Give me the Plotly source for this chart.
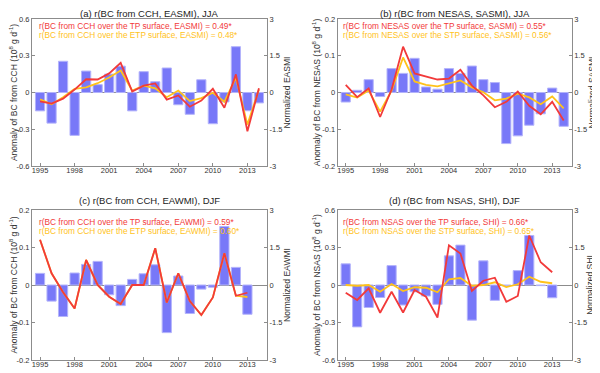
import plotly.graph_objects as go

YEARS_A = list(range(1995, 2015))
YEARS_C = list(range(1995, 2014))

# (a) CCH, EASMI, JJA
BAR_A = [-0.15, -0.25, 0.255, -0.35, 0.175, 0.064, 0.15, 0.215, -0.15, 0.17,
         0.088, 0.2, -0.1, -0.178, 0.104, -0.255, -0.077, 0.374, -0.149, -0.085]
TP_A = [-0.36, -0.45, -0.25, 0.12, 0.54, 0.53, 0.78, 1.21, 0.04, 0.28,
        0.37, -0.29, -0.12, -0.58, -0.33, 0.15, -0.62, 0.74, -1.58, 0.17]
ETP_A = [-0.28, -0.48, -0.19, 0.15, 0.21, 0.38, 0.61, 0.9, 0.08, 0.28,
         0.17, -0.19, 0.08, -0.35, -0.23, -0.01, -0.38, 0.61, -1.31, 0.12]

# (b) NESAS, SASMI, JJA
BAR_B = [-0.026, 0.006, 0.035, -0.011, 0.065, 0.052, 0.093, 0.015, 0.009, 0.065,
         0.052, 0.072, 0.035, 0.027, -0.139, -0.118, -0.089, -0.058, 0.012, -0.092]
TP_B = [0.31, -0.19, 0.17, -1.0, 0.12, 1.87, 0.78, 0.65, 0.53, 0.57,
        0.93, 0.28, -0.12, -0.6, -0.38, 0.04, -0.54, -0.89, -0.38, -1.14]
STP_B = [-0.08, -0.21, 0.08, -0.78, 0.08, 1.43, 0.45, 0.31, 0.25, 0.36,
         0.49, 0.21, 0.01, -0.32, -0.25, -0.05, -0.2, -0.48, -0.16, -0.65]

# (c) CCH, EAWMI, DJF
BAR_C = [0.031, -0.043, -0.084, 0.032, 0.055, 0.063, -0.026, -0.055, 0.015, 0.03,
         0.054, -0.127, 0.024, -0.076, -0.011, -0.006, 0.156, 0.047, -0.078]
TP_C = [1.81, 0.47, -0.29, -0.94, 1.0, 0.0, -0.47, -0.76, 0.0, 0.0,
        1.47, -0.7, 0.47, -0.64, -1.2, -0.5, 1.27, -0.43, -0.31]
ETP_C = [1.81, 0.47, -0.29, -0.94, 1.0, 0.0, -0.47, -0.76, 0.0, 0.0,
         1.47, -0.7, 0.47, -0.64, -1.2, -0.5, 1.27, -0.43, -0.48]

# (d) NSAS, SHI, DJF
BAR_D = [0.169, -0.335, -0.18, -0.1, 0.155, -0.16, -0.054, -0.088, -0.155, 0.233,
         0.319, -0.281, 0.193, -0.123, -0.005, 0.115, 0.396, -0.005, -0.102]
TP_D = [-0.31, -0.6, -0.13, -1.11, -0.27, -1.1, -0.2, -0.47, -1.3, 1.59,
        1.26, -0.24, 0.17, 0.29, -0.67, -0.44, 1.98, 0.91, 0.51]
STP_D = [0.0, -0.03, 0.0, -0.27, 0.04, -0.24, -0.09, -0.11, -0.29, 0.23,
         0.28, -0.03, 0.0, 0.11, -0.08, 0.03, 0.33, 0.13, 0.07]

XTICKS = [1995, 1998, 2001, 2004, 2007, 2010, 2013]

BAR_COL = "#7878f8"
BAR_EDGE = "#b4b4fb"
RED = "#f23a3a"
ORANGE = "#ffc21a"
AXC = "#8c8c8c"
INK = "#333333"
FONT = "Liberation Sans, Arial, sans-serif"

# the page body has an 8px margin, so the figure is 592x365 and offset by 8px
W, H = 592, 365
TOP_ROW = dict(yd=[0.5671, 0.9699], ty=0.9863, l1y=0.9507, l2y=0.926)
BOT_ROW = dict(yd=[0.0356, 0.4466], ty=0.472, l1y=0.4145, l2y=0.3899)
LEFT_COL = dict(xd=[0.0405, 0.4375], lx=0.0485)
RIGHT_COL = dict(xd=[0.5569, 0.9522], lx=0.562)

PANELS = [
    dict(title="(a) r(BC from CCH, EASMI), JJA", years=YEARS_A, bar=BAR_A, red=TP_A, org=ETP_A,
         lim=0.6, lt=[-0.6, -0.3, 0, 0.3, 0.6], ltxt=["-0.6", "-0.3", "0", "0.3", "0.6"],
         ylab="Anomaly of BC from CCH (10<sup>8</sup> g d<sup>-1</sup>)", rlab="Normalized EASMI",
         l1="r(BC from CCH over the TP surface, EASMI) = 0.49*",
         l2="r(BC from CCH over the ETP surface, EASMI) = 0.48*",
         **TOP_ROW, **LEFT_COL),
    dict(title="(b) r(BC from NESAS, SASMI), JJA", years=YEARS_A, bar=BAR_B, red=TP_B, org=STP_B,
         lim=0.2, lt=[-0.2, -0.1, 0, 0.1, 0.2], ltxt=["-0.2", "-0.1", "0", "0.1", "0.2"],
         ylab="Anomaly of BC from NESAS (10<sup>8</sup> g d<sup>-1</sup>)", rlab="Normalized SASMI",
         l1="r(BC from NESAS over the TP surface, SASMI) = 0.55*",
         l2="r(BC from NESAS over the STP surface, SASMI) = 0.56*",
         **TOP_ROW, **RIGHT_COL),
    dict(title="(c) r(BC from CCH, EAWMI), DJF", years=YEARS_C, bar=BAR_C, red=TP_C, org=ETP_C,
         lim=0.2, lt=[-0.2, -0.1, 0, 0.1, 0.2], ltxt=["-0.2", "-0.1", "0", "0.1", "0.2"],
         ylab="Anomaly of BC from CCH (10<sup>8</sup> g d<sup>-1</sup>)", rlab="Normalized EAWMI",
         l1="r(BC from CCH over the TP surface, EAWMI) = 0.59*",
         l2="r(BC from CCH over the ETP surface, EAWMI) = 0.60*",
         **BOT_ROW, **LEFT_COL),
    dict(title="(d) r(BC from NSAS, SHI), DJF", years=YEARS_C, bar=BAR_D, red=TP_D, org=STP_D,
         lim=0.6, lt=[-0.6, -0.3, 0, 0.3, 0.6], ltxt=["-0.6", "-0.3", "0", "0.3", "0.6"],
         ylab="Anomaly of BC from NSAS (10<sup>8</sup> g d<sup>-1</sup>)", rlab="Normalized SHI",
         l1="r(BC from NSAS over the TP surface, SHI) = 0.66*",
         l2="r(BC from NSAS over the STP surface, SHI) = 0.65*",
         **BOT_ROW, **RIGHT_COL),
]

fig = go.Figure()
layout = {}
annotations = []

for i, p in enumerate(PANELS):
    n = i + 1
    xa = f"x{n}" if n > 1 else "x"
    ya = f"y{2 * n - 1}" if n > 1 else "y"
    yb = f"y{2 * n}"
    xkey = f"xaxis{n}" if n > 1 else "xaxis"
    ykey = f"yaxis{2 * n - 1}" if n > 1 else "yaxis"
    y2key = f"yaxis{2 * n}"

    fig.add_trace(go.Bar(x=p["years"], y=p["bar"], width=0.8, marker_color=BAR_COL,
                         marker_line=dict(color=BAR_EDGE, width=1),
                         xaxis=xa, yaxis=ya, showlegend=False))
    fig.add_trace(go.Scatter(x=p["years"], y=p["org"], mode="lines",
                             line=dict(color=ORANGE, width=1.8),
                             xaxis=xa, yaxis=yb, showlegend=False))
    fig.add_trace(go.Scatter(x=p["years"], y=p["red"], mode="lines",
                             line=dict(color=RED, width=1.8),
                             xaxis=xa, yaxis=yb, showlegend=False))

    layout[xkey] = dict(domain=p["xd"], anchor=ya, range=[1994.3, 2014.7], automargin=False,
                        tickvals=XTICKS, ticks="inside", ticklen=3, tickcolor=AXC,
                        ticklabelstandoff=-3,
                        showgrid=False, zeroline=False, showline=True, linecolor=AXC,
                        mirror=True, tickfont=dict(size=7.5, color=INK))
    layout[ykey] = dict(domain=p["yd"], anchor=xa, range=[-p["lim"], p["lim"]], automargin=False,
                        tickvals=p["lt"], ticktext=p["ltxt"], ticks="inside", ticklen=3,
                        tickcolor=AXC, showgrid=False, zeroline=True, zerolinecolor=AXC,
                        zerolinewidth=1, showline=True, linecolor=AXC,
                        tickfont=dict(size=7.5, color=INK),
                        title=dict(text=p["ylab"], font=dict(size=8.5, color=INK), standoff=0))
    layout[y2key] = dict(overlaying=ya, side="right", anchor=xa, range=[-3, 3], automargin=False,
                         tickvals=[-3, -1.5, 0, 1.5, 3], ticktext=["-3", "-1.5", "0", "1.5", "3"],
                         ticks="inside", ticklen=3, tickcolor=AXC, showgrid=False,
                         zeroline=False, showline=True, linecolor=AXC,
                         tickfont=dict(size=7.5, color=INK),
                         title=dict(text=p["rlab"], font=dict(size=8.5, color=INK), standoff=0))

    xm = (p["xd"][0] + p["xd"][1]) / 2
    annotations.append(dict(text=p["title"], x=xm, y=p["ty"], xref="paper", yref="paper",
                            xanchor="center", yanchor="middle", showarrow=False,
                            font=dict(size=9.5, color="#222222")))
    annotations.append(dict(text=p["l1"], x=p["lx"], y=p["l1y"],
                            xref="paper", yref="paper", xanchor="left", yanchor="middle",
                            showarrow=False, font=dict(size=8.3, color=RED)))
    annotations.append(dict(text=p["l2"], x=p["lx"], y=p["l2y"],
                            xref="paper", yref="paper", xanchor="left", yanchor="middle",
                            showarrow=False, font=dict(size=8.3, color=ORANGE)))

fig.update_layout(
    width=W, height=H,
    margin=dict(l=0, r=0, t=0, b=0),
    paper_bgcolor="white", plot_bgcolor="white",
    font=dict(family=FONT, size=9, color=INK),
    barmode="overlay",
    annotations=annotations,
    **layout,
)

fig.write_html("out.html")
